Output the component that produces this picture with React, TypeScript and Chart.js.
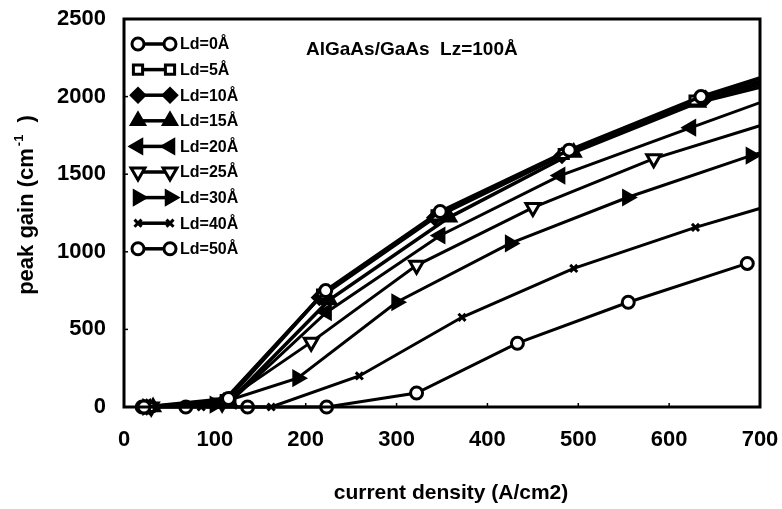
import React, { useEffect, useRef } from "react";
import { Chart, registerables } from "chart.js";
import { drawPoint } from "chart.js/helpers";

Chart.register(...registerables);

// ---- data ----
const seriesLabels = ["Ld=0Å", "Ld=5Å", "Ld=10Å", "Ld=15Å", "Ld=20Å", "Ld=25Å", "Ld=30Å", "Ld=40Å", "Ld=50Å"];

const ld0X = [22, 115, 222, 348, 490, 635, 770];
const ld0Y = [0, 55, 750, 1260, 1655, 2000, 2250];
const ld5X = [28, 112, 218, 344, 484, 628, 770];
const ld5Y = [0, 45, 725, 1235, 1630, 1975, 2221];
const ld10X = [25, 110, 215, 342, 482, 640, 770];
const ld10Y = [0, 40, 705, 1220, 1620, 1990, 2185];
const ld15X = [32, 116, 226, 358, 495, 632, 770];
const ld15Y = [0, 35, 690, 1222, 1640, 1962, 2161];
const ld20X = [24, 118, 223, 348, 480, 624, 770];
const ld20Y = [0, 40, 611, 1105, 1491, 1800, 2110];
const ld25X = [30, 108, 206, 322, 450, 583, 770];
const ld25Y = [0, 25, 418, 913, 1285, 1600, 1940];
const ld30X = [26, 100, 191, 300, 425, 554, 690, 770];
const ld30Y = [0, 15, 186, 675, 1054, 1350, 1620, 1760];
const ld40X = [30, 85, 162, 259, 372, 495, 629, 770];
const ld40Y = [0, 0, 0, 200, 578, 893, 1157, 1400];
const ld50X = [20, 68, 136, 223, 322, 433, 555, 686];
const ld50Y = [0, 0, 0, 0, 90, 411, 675, 925];

const xTickValues = [0, 100, 200, 300, 400, 500, 600, 700];
const yTickValues = [0, 500, 1000, 1500, 2000, 2500];

const titleText = "AlGaAs/GaAs  Lz=100Å";
const xTitle = "current density (A/cm2)";
const yTitleMain = "peak gain (cm";
const yTitleSup = "-1";
const yTitleEnd = " )";

const seriesX = [ld0X, ld5X, ld10X, ld15X, ld20X, ld25X, ld30X, ld40X, ld50X];
const seriesY = [ld0Y, ld5Y, ld10Y, ld15Y, ld20Y, ld25Y, ld30Y, ld40Y, ld50Y];

// ---- styles ----
const FONT = '"Liberation Sans", Arial, Helvetica, sans-serif';
const styles = [
  { pointStyle: "circle", rotation: 0, radius: 6, fill: "#fff", width: 3.5, pbw: 3 },
  { pointStyle: "rect", rotation: 0, radius: 6.5, fill: "#fff", width: 3.5, pbw: 3 },
  { pointStyle: "rectRot", rotation: 0, radius: 7, fill: "#000", width: 3.5, pbw: 2.5 },
  { pointStyle: "triangle", rotation: 0, radius: 8, fill: "#000", width: 3.5, pbw: 2.5 },
  { pointStyle: "triangle", rotation: 270, radius: 8, fill: "#000", width: 3, pbw: 2.5 },
  { pointStyle: "triangle", rotation: 180, radius: 8, fill: "#fff", width: 3, pbw: 3 },
  { pointStyle: "triangle", rotation: 90, radius: 8, fill: "#000", width: 3, pbw: 2.5 },
  { pointStyle: "crossRot", rotation: 0, radius: 5, fill: "#000", width: 3, pbw: 3 },
  { pointStyle: "circle", rotation: 0, radius: 6, fill: "#fff", width: 3, pbw: 3 },
];

const decorPlugin = {
  id: "decor",
  afterDraw(chart: any) {
    const { ctx, chartArea: a } = chart;
    const xs = chart.scales.x;
    const ys = chart.scales.y;
    ctx.save();
    // frame
    ctx.strokeStyle = "#000";
    ctx.lineWidth = 3;
    ctx.strokeRect(a.left, a.top, a.right - a.left, a.bottom - a.top);
    // inner tick marks
    ctx.lineWidth = 1.5;
    xTickValues.forEach((v) => {
      const px = xs.getPixelForValue(v);
      ctx.beginPath();
      ctx.moveTo(px, a.bottom);
      ctx.lineTo(px, a.bottom - 4);
      ctx.stroke();
    });
    yTickValues.forEach((v) => {
      const py = ys.getPixelForValue(v);
      ctx.beginPath();
      ctx.moveTo(a.left, py);
      ctx.lineTo(a.left + 4, py);
      ctx.stroke();
    });

    // plot title
    ctx.fillStyle = "#000";
    ctx.font = `bold 19px ${FONT}`;
    ctx.textAlign = "left";
    ctx.textBaseline = "middle";
    ctx.fillText(titleText, 306, 50);

    // legend
    const lx1 = 138;
    const lx2 = 170;
    const ly0 = 44;
    const dy = 25.6;
    chart.data.datasets.forEach((ds: any, i: number) => {
      const st = styles[i];
      const y = ly0 + i * dy;
      ctx.strokeStyle = "#000";
      ctx.lineWidth = 3.5;
      ctx.beginPath();
      ctx.moveTo(lx1, y);
      ctx.lineTo(lx2, y);
      ctx.stroke();
      [lx1, lx2].forEach((x) => {
        ctx.fillStyle = st.fill;
        ctx.strokeStyle = "#000";
        ctx.lineWidth = st.pbw;
        drawPoint(ctx, { pointStyle: st.pointStyle, rotation: st.rotation, radius: st.radius, borderWidth: st.pbw } as any, x, y);
      });
      ctx.fillStyle = "#000";
      ctx.font = `bold 16px ${FONT}`;
      ctx.textAlign = "left";
      ctx.textBaseline = "middle";
      ctx.fillText(ds.label, 180, y + 1);
    });

    // x axis title
    ctx.font = `bold 21px ${FONT}`;
    ctx.textAlign = "center";
    ctx.textBaseline = "middle";
    ctx.fillText(xTitle, 451, 493);

    // y axis title (rotated, with superscript)
    ctx.translate(26, 205);
    ctx.rotate(-Math.PI / 2);
    ctx.textAlign = "left";
    ctx.textBaseline = "alphabetic";
    ctx.font = `bold 22px ${FONT}`;
    const w1 = ctx.measureText(yTitleMain).width;
    const w3 = ctx.measureText(yTitleEnd).width;
    ctx.font = `bold 13px ${FONT}`;
    const w2 = ctx.measureText(yTitleSup).width;
    const total = w1 + w2 + w3 + 8;
    let u = -total / 2;
    ctx.font = `bold 22px ${FONT}`;
    ctx.fillText(yTitleMain, u, 7);
    u += w1 + 2;
    ctx.font = `bold 13px ${FONT}`;
    ctx.fillText(yTitleSup, u, -3);
    u += w2 + 6;
    ctx.font = `bold 22px ${FONT}`;
    ctx.fillText(yTitleEnd, u, 7);
    ctx.restore();
  },
};

export default function App() {
  const ref = useRef<HTMLCanvasElement>(null);

  useEffect(() => {
    document.body.style.margin = "0";
    const datasets = seriesLabels.map((label, i) => {
      const st = styles[i];
      return {
        label,
        data: seriesX[i].map((x, j) => ({ x, y: seriesY[i][j] })),
        borderColor: "#000",
        borderWidth: st.width,
        pointStyle: st.pointStyle,
        pointRotation: st.rotation,
        pointRadius: st.radius,
        pointBackgroundColor: st.fill,
        pointBorderColor: "#000",
        pointBorderWidth: st.pbw,
        pointHoverRadius: st.radius,
        tension: 0,
        fill: false,
        clip: { left: 12, top: 12, right: 1, bottom: 12 },
      };
    });

    const tickFont = { family: FONT, size: 22, weight: "bold" as const };
    const chart = new Chart(ref.current!, {
      type: "line",
      data: { datasets: datasets as any },
      options: {
        animation: false,
        responsive: false,
        maintainAspectRatio: false,
        layout: { padding: { left: 0, top: 19, right: 22, bottom: 0 } },
        plugins: {
          legend: { display: false },
          tooltip: { enabled: false },
          title: { display: false },
        },
        scales: {
          x: {
            type: "linear",
            min: 0,
            max: 700,
            afterFit: (s: any) => {
              s.height = 102;
              s.paddingRight = 22;
              s.paddingLeft = 0;
            },
            afterBuildTicks: (s: any) => {
              s.ticks = xTickValues.map((v) => ({ value: v }));
            },
            grid: { display: false, drawTicks: false },
            border: { display: false },
            ticks: {
              color: "#000",
              font: tickFont,
              padding: 20,
              maxRotation: 0,
              autoSkip: false,
              callback: (v: any) => String(v),
            },
          },
          y: {
            type: "linear",
            min: 0,
            max: 2500,
            afterFit: (s: any) => {
              s.width = 124;
              s.paddingTop = 19;
              s.paddingBottom = 0;
            },
            afterBuildTicks: (s: any) => {
              s.ticks = yTickValues.map((v) => ({ value: v }));
            },
            grid: { display: false, drawTicks: false },
            border: { display: false },
            ticks: {
              color: "#000",
              font: tickFont,
              padding: 18,
              autoSkip: false,
              callback: (v: any) => String(v),
            },
          },
        },
      },
      plugins: [decorPlugin],
    });
    return () => chart.destroy();
  }, []);

  return (
    <div style={{ width: 782, height: 509, background: "#fff" }}>
      <canvas ref={ref} width={782} height={509} />
    </div>
  );
}
